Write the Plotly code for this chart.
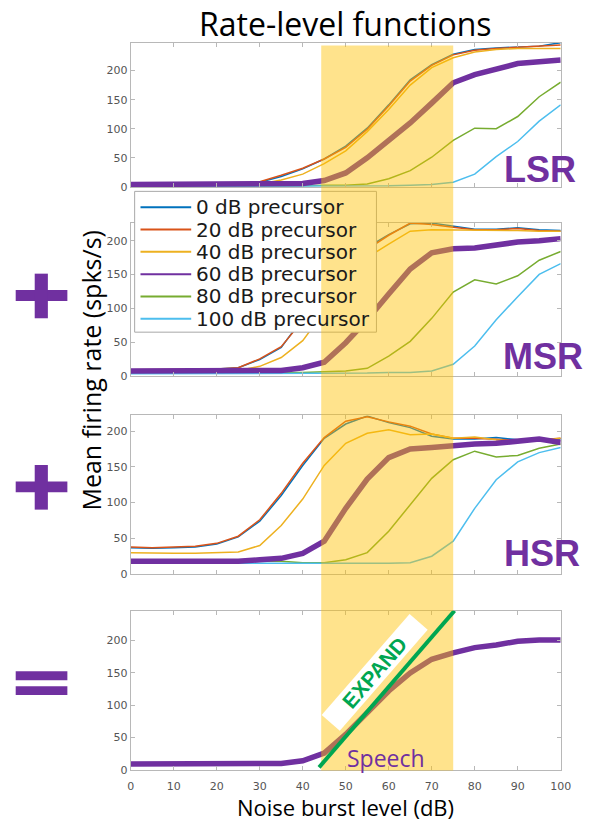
import plotly.graph_objects as go
from plotly.subplots import make_subplots

# ---------------- data ----------------
levels = [0, 5, 10, 15, 20, 25, 30, 35, 40, 45, 50, 55, 60, 65, 70, 75, 80, 85, 90, 95, 100]
series_names = ["0 dB precursor", "20 dB precursor", "40 dB precursor",
                "60 dB precursor", "80 dB precursor", "100 dB precursor"]
series_colors = ["#0072BD", "#D95319", "#EDB120", "#7030A0", "#77AC30", "#4DBEEE"]

lsr_0 = [2, 2, 2, 2, 2, 4, 8, 18, 31, 48, 70, 101, 141, 184, 210, 228, 236, 239, 241, 242, 248]
lsr_20 = [3, 3, 3, 3, 3, 5, 9, 20, 32, 48, 68, 99, 139, 182, 209, 227, 235, 238, 240, 241, 244]
lsr_40 = [2, 2, 2, 2, 2, 3, 5, 12, 22, 40, 62, 95, 133, 175, 205, 222, 232, 236, 238, 238, 238]
lsr_60 = [4, 4, 4, 4, 4, 4, 4, 5, 6, 11, 24, 50, 79, 110, 144, 179, 193, 202, 212, 215, 218]
lsr_80 = [1, 1, 1, 1, 1, 1, 1, 1, 2, 3, 3, 5, 14, 28, 51, 80, 101, 100, 121, 155, 180]
lsr_100 = [1, 1, 1, 1, 1, 1, 1, 1, 1, 1, 1, 2, 2, 3, 4, 8, 22, 52, 78, 113, 141]

msr_0 = [8, 8, 8, 9, 10, 12, 24, 42, 85, 128, 162, 190, 209, 225, 226, 222, 217, 217, 219, 216, 215]
msr_20 = [9, 9, 9, 9, 10, 12, 25, 43, 82, 125, 160, 187, 208, 226, 224, 220, 216, 216, 218, 215, 214]
msr_40 = [7, 7, 7, 7, 7, 8, 14, 27, 52, 95, 140, 175, 195, 214, 216, 216, 215, 216, 215, 214, 214]
msr_60 = [7, 7, 7, 7, 7, 7, 8, 8, 12, 20, 49, 83, 121, 158, 182, 188, 189, 194, 198, 200, 203]
msr_80 = [4, 4, 4, 4, 4, 4, 4, 5, 5, 6, 7, 11, 29, 51, 85, 124, 142, 136, 148, 171, 184]
msr_100 = [3, 3, 3, 3, 3, 3, 3, 3, 3, 3, 3, 4, 5, 5, 7, 17, 44, 83, 117, 150, 166]

hsr_0 = [37, 36, 37, 38, 42, 52, 74, 110, 152, 190, 210, 221, 212, 205, 193, 189, 189, 191, 188, 187, 189]
hsr_20 = [38, 37, 38, 39, 43, 53, 76, 113, 155, 191, 214, 220, 213, 207, 196, 190, 190, 188, 187, 188, 190]
hsr_40 = [30, 29, 29, 29, 30, 31, 40, 68, 105, 152, 183, 197, 202, 195, 196, 190, 192, 188, 186, 187, 190]
hsr_60 = [18, 18, 18, 18, 18, 18, 20, 22, 29, 46, 92, 133, 163, 175, 177, 180, 182, 183, 186, 189, 184]
hsr_80 = [17, 17, 17, 17, 17, 17, 18, 18, 16, 16, 20, 30, 60, 97, 134, 160, 172, 164, 166, 176, 182]
hsr_100 = [15, 15, 15, 15, 15, 15, 15, 15, 15, 14, 14, 14, 15, 16, 25, 46, 92, 132, 157, 170, 177]

combined = [9, 9, 9, 9, 9, 10, 10, 10, 14, 26, 55, 89, 122, 150, 171, 181, 189, 193, 199, 201, 201]

panel_labels = ["LSR", "MSR", "HSR"]
speech_band = [44.3, 75]
x_ticks = [0, 10, 20, 30, 40, 50, 60, 70, 80, 90, 100]
y_ticks = [0, 50, 100, 150, 200]
y_ranges = [[0, 248], [0, 226], [0, 222], [0, 246]]

panels = [
    [lsr_0, lsr_20, lsr_40, lsr_60, lsr_80, lsr_100],
    [msr_0, msr_20, msr_40, msr_60, msr_80, msr_100],
    [hsr_0, hsr_20, hsr_40, hsr_60, hsr_80, hsr_100],
]

W, H = 599, 825


def px(x):
    return x / W


def py(y):
    return 1 - y / H


PURPLE = "#7030A0"
GREEN = "#00A651"

fig = make_subplots(rows=4, cols=1)

draw_order = [0, 1, 2, 4, 5, 3]
for r, panel in enumerate(panels, start=1):
    for k in draw_order:
        thick = (k == 3)
        fig.add_trace(go.Scatter(
            x=levels, y=panel[k], mode="lines", name=series_names[k],
            line=dict(color=series_colors[k], width=5.5 if thick else 1.5),
            showlegend=False), row=r, col=1)

fig.add_trace(go.Scatter(x=levels, y=combined, mode="lines", name="Sum",
                         line=dict(color=PURPLE, width=5.5), showlegend=False),
              row=4, col=1)

# axes / domains (pixel geometry)
y_domains = [(43, 188.5), (225, 379), (419, 579), (616, 776.5)]
x_dom = [px(130), px(571)]
axis_style = dict(showline=True, linecolor="#b8b8b8", linewidth=1, mirror="ticks",
                  ticks="inside", ticklen=4, tickcolor="#b8b8b8", showgrid=False,
                  zeroline=False, tickfont=dict(family="DejaVu Sans", size=11, color="#555555"))
for i in range(4):
    top, bot = y_domains[i]
    fig.update_xaxes(domain=x_dom, range=[0, 100], tickvals=x_ticks,
                     showticklabels=(i == 3), ticklabelstandoff=6,
                     row=i + 1, col=1, **axis_style)
    fig.update_yaxes(domain=[py(bot), py(top)], range=y_ranges[i], tickvals=y_ticks,
                     row=i + 1, col=1, **axis_style)

shapes = []
# manual legend background and border
shapes.append(dict(type="rect", xref="paper", yref="paper", x0=px(134), x1=px(382),
                   y0=py(335), y1=py(193), fillcolor="white",
                   line=dict(color="#a8a8a8", width=1), layer="above"))
legend_rows = [209, 231.5, 254, 276.5, 299, 321.5]
for k, ry in enumerate(legend_rows):
    shapes.append(dict(type="line", xref="paper", yref="paper", x0=px(140), x1=px(192),
                       y0=py(ry), y1=py(ry),
                       line=dict(color=series_colors[k], width=2), layer="above"))
# speech band
shapes.append(dict(type="rect", xref="x4", yref="paper", x0=speech_band[0], x1=speech_band[1],
                   y0=py(777), y1=py(46), fillcolor="rgb(255,192,0)", opacity=0.45,
                   line=dict(width=0), layer="above"))
# EXPAND line
shapes.append(dict(type="line", xref="x4", yref="y4", x0=43.8, y0=4, x1=75.3, y1=246,
                   line=dict(color=GREEN, width=4), layer="above"))


# plus / equals symbols
def rect(x0, x1, y0, y1):
    return dict(type="rect", xref="paper", yref="paper", x0=px(x0), x1=px(x1),
                y0=py(y1), y1=py(y0), fillcolor=PURPLE, line=dict(width=0), layer="above")


for cy in (298, 491):
    shapes.append(rect(12, 65, cy - 5.5, cy + 5.5))
    shapes.append(rect(31.5, 45, cy - 22, cy + 23))
shapes.append(rect(12, 65, 677, 686))
shapes.append(rect(12, 65, 692, 701))

annotations = []
annotations.append(dict(text="Rate-level functions", x=px(350), y=py(24), xref="paper",
                        yref="paper", showarrow=False, xanchor="center", yanchor="middle",
                        font=dict(family="Open Sans", size=32, color="black")))
annotations.append(dict(text="Noise burst level (dB)", x=px(350), y=py(814), xref="paper",
                        yref="paper", showarrow=False, xanchor="center", yanchor="middle",
                        font=dict(family="Open Sans", size=22, color="black")))
annotations.append(dict(text="Mean firing rate (spks/s)", x=px(89), y=py(373), xref="paper",
                        yref="paper", showarrow=False, xanchor="center", yanchor="middle",
                        textangle=-90, font=dict(family="Open Sans", size=25, color="black")))
for k, ry in enumerate(legend_rows):
    annotations.append(dict(text=series_names[k], x=px(195), y=py(ry), xref="paper",
                            yref="paper", showarrow=False, xanchor="left", yanchor="middle",
                            font=dict(family="DejaVu Sans", size=20, color="#1a1a1a")))
label_pos = [(550, 171), (553, 360), (552, 558)]
for lab, (lx, ly) in zip(panel_labels, label_pos):
    annotations.append(dict(text="<b>" + lab + "</b>", x=px(lx), y=py(ly), xref="paper",
                            yref="paper", showarrow=False, xanchor="center", yanchor="middle",
                            font=dict(family="Liberation Sans", size=36, color=PURPLE)))
annotations.append(dict(text="&nbsp;&nbsp;&nbsp;&nbsp;<b>EXPAND</b>&nbsp;&nbsp;&nbsp;&nbsp;",
                        x=px(380), y=py(678), xref="paper", yref="paper", showarrow=False,
                        xanchor="center", yanchor="middle", textangle=-49,
                        bgcolor="white", borderpad=0,
                        font=dict(family="Liberation Sans", size=21, color=GREEN)))
annotations.append(dict(text="Speech", x=px(392), y=py(764), xref="paper", yref="paper",
                        showarrow=False, xanchor="center", yanchor="middle",
                        font=dict(family="Open Sans", size=23, color=PURPLE)))

fig.update_layout(width=W, height=H, margin=dict(l=0, r=0, t=0, b=0),
                  paper_bgcolor="white", plot_bgcolor="white", showlegend=False,
                  shapes=shapes, annotations=annotations)

fig.write_html("out.html", config={"displayModeBar": False},
               post_script="document.body.style.margin='0';document.body.style.overflow='hidden';")
